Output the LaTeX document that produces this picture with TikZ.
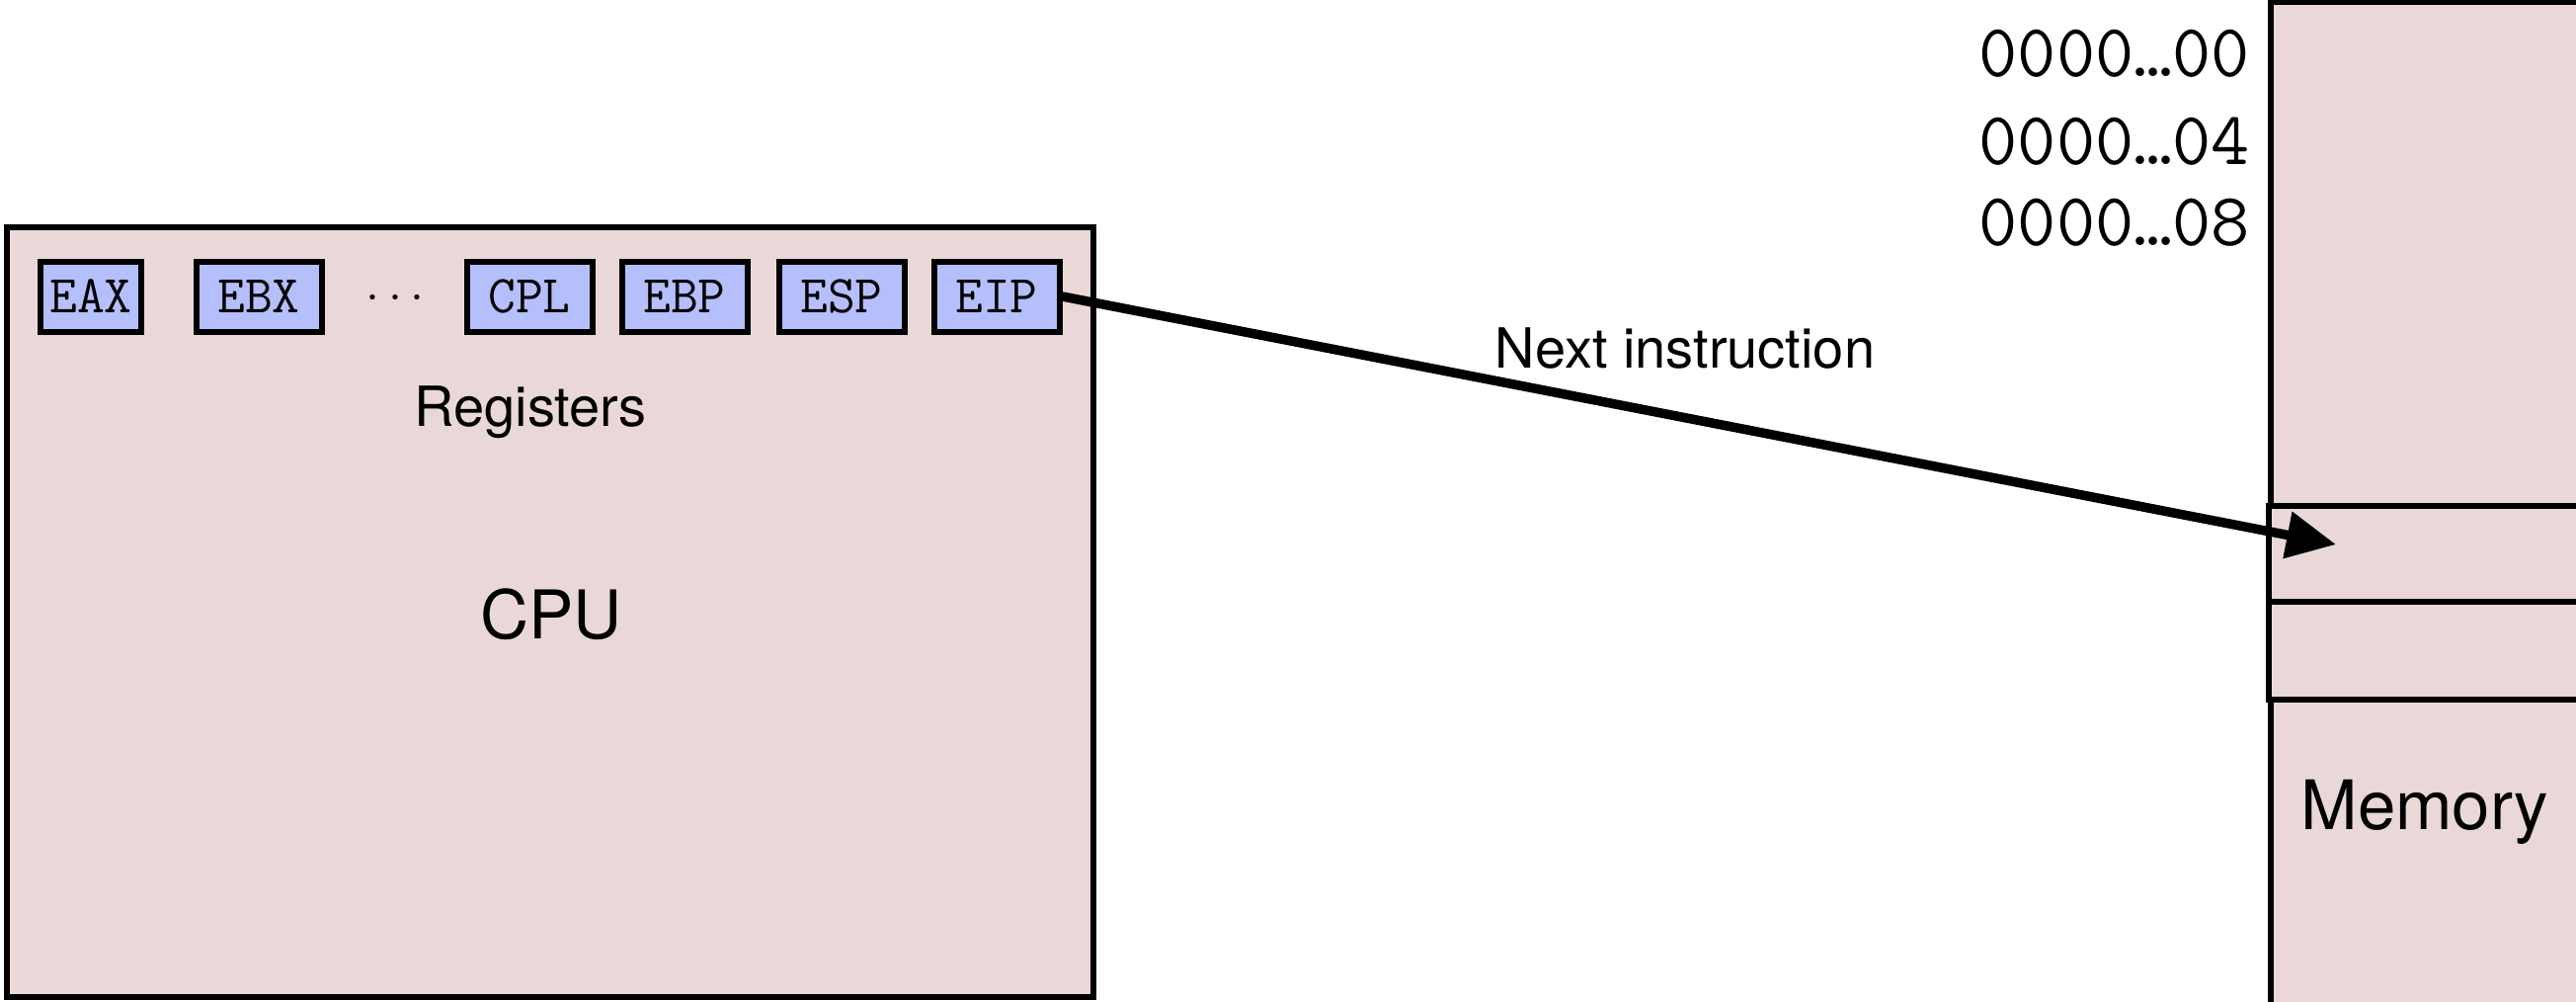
\documentclass[tikz,border=0pt]{standalone}
\usepackage{fontspec}
\setmainfont{TeX Gyre Heros}
\usetikzlibrary{arrows.meta}
\definecolor{boxpink}{RGB}{234,216,216}
\definecolor{regblue}{RGB}{180,191,251}
\begin{document}
\begin{tikzpicture}[x=1pt,y=-1pt,
  bigbox/.style={draw=black, line width=6pt, fill=boxpink, inner sep=0pt},
  reg/.style={draw=black, line width=6pt, fill=regblue, minimum width=127pt,
    minimum height=71pt, inner sep=0pt, font=\ttfamily\fontsize{54}{64}\selectfont},
  caption/.style={inner sep=0pt, anchor=base, font=\fontsize{56}{66}\selectfont},
  title/.style={inner sep=0pt, anchor=base, font=\fontsize{68}{80}\selectfont},
  addr/.style={inner sep=0pt, anchor=base east, font=\ttfamily\fontsize{76}{90}\selectfont},
  pointer/.style={line width=9.5pt, -{Triangle[length=50pt,width=46pt]}}]
\useasboundingbox (0,0) rectangle (2608,1014);
\clip (0,0) rectangle (2608,1014);

% CPU with its register file
\node[bigbox, minimum width=1100pt, minimum height=779pt] (cpu) at (557,619.5) {};
\node[reg, minimum width=102pt] (eax) at (92,300) {EAX};
\node[reg] (ebx) at (262,300) {EBX};
\node[inner sep=0pt, anchor=base, font=\fontsize{50}{60}\selectfont] (dots) at (400,313) {·\kern9pt·\kern9pt·};
\node[reg] (cpl) at (536,300) {CPL};
\node[reg] (ebp) at (693,300) {EBP};
\node[reg] (esp) at (852,300) {ESP};
\node[reg] (eip) at (1009,300) {EIP};
\node[caption] (reglabel) at (537,431) {Registers};
\node[title] (cpulabel) at (558,646) {CPU};

% Memory column with two slots
\node[bigbox, minimum width=401pt, minimum height=1098pt] (mem) at (2499.5,551) {};
\node[bigbox, minimum width=403pt, minimum height=97pt] (slota) at (2498.5,560.5) {};
\node[bigbox, minimum width=403pt, minimum height=99pt] (slotb) at (2498.5,658.5) {};
\node[title, font=\fontsize{69}{80}\selectfont] (memlabel) at (2455,839) {Memory};

% Addresses
\node[addr] (a0) at (2278,78) {0000…00};
\node[addr] (a4) at (2278,167) {0000…04};
\node[addr] (a8) at (2278,248) {0000…08};

% Instruction pointer
\coordinate (target) at (2365,551);
\draw[pointer] (eip.east) -- (target);
\node[caption] (nextlabel) at (1706,372) {Next instruction};
\end{tikzpicture}
\end{document}
